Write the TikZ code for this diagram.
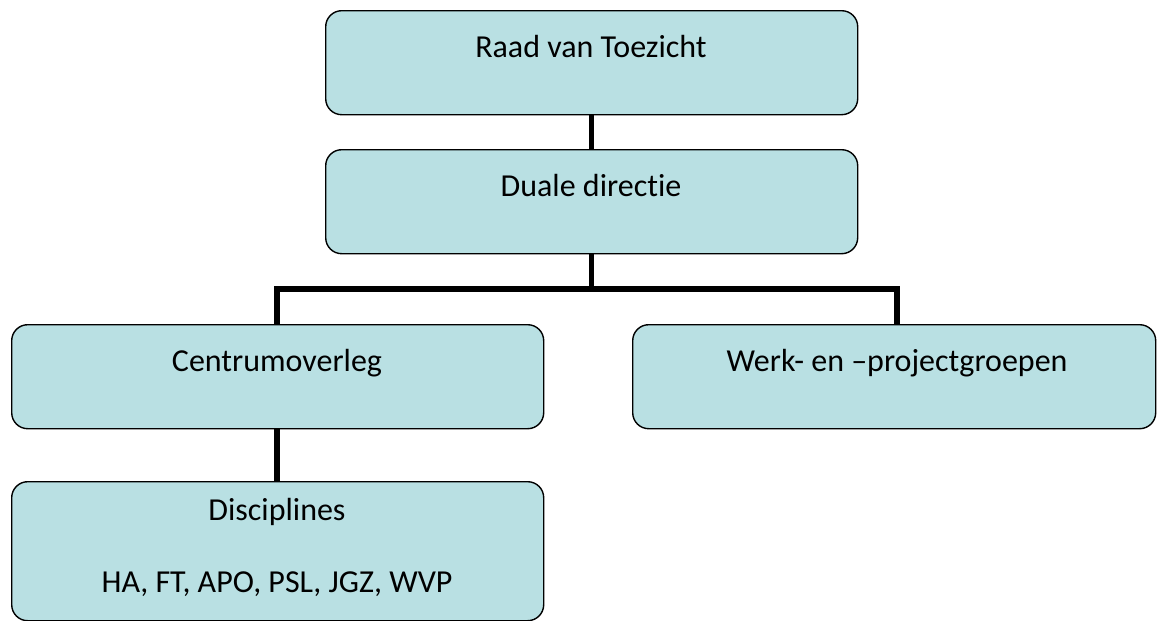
\documentclass[tikz,border=0pt]{standalone}
\usepackage{fontspec}
\setmainfont[Ligatures=NoCommon]{Carlito}
\definecolor{boxfill}{RGB}{185,224,227}
\begin{document}
\begin{tikzpicture}[x=1pt,y=-1pt,
  orgbox/.style={draw=black, line width=1.4pt, fill=boxfill, rounded corners=16pt,
    inner sep=0pt, anchor=north west},
  lbl/.style={font=\fontsize{32}{38}\selectfont, text=black, inner sep=0pt, anchor=base},
  link/.style={line width=5.5pt, draw=black, line join=miter}]
\useasboundingbox (0,0) rectangle (1157,621);
% boxes
\node[orgbox, minimum width=532pt, minimum height=104pt] (rvt) at (325,10) {};
\node[orgbox, minimum width=532pt, minimum height=104pt] (dd) at (325,149) {};
\node[orgbox, minimum width=532pt, minimum height=104pt] (co) at (11,324) {};
\node[orgbox, minimum width=523pt, minimum height=104pt] (wp) at (632,324) {};
\node[orgbox, minimum width=532pt, minimum height=139pt] (dis) at (11,481) {};
% labels (placed on their baselines)
\node[lbl] (trvt) at (591,57) {Raad van Toezicht};
\node[lbl] (tdd) at (591,196) {Duale directie};
\node[lbl] (tco) at (277,371) {Centrumoverleg};
\node[lbl] (twp) at (897,371) {Werk- en –projectgroepen};
\node[lbl] (tdis1) at (277,520) {Disciplines};
\node[lbl] (tdis2) at (277,592) {HA, FT, APO, PSL, JGZ, WVP};
% connectors
\coordinate (left) at (277,289);
\coordinate (right) at (897,289);
\draw[link] (rvt.south) -- (dd.north);
\draw[link] (dd.south) -- (dd.south |- left);
\draw[link] (co.north -| left) -- (left) -- (right) -- (wp.north -| right);
\draw[link] (co.south -| left) -- (dis.north -| left);
\end{tikzpicture}
\end{document}
